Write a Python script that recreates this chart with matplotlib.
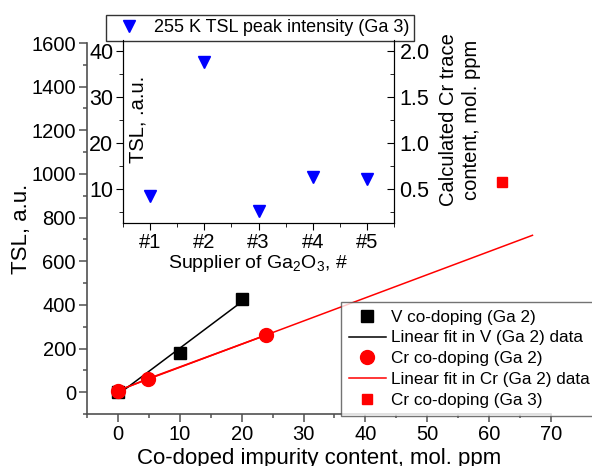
import numpy as np
import matplotlib
matplotlib.use("Agg")
from matplotlib import pyplot as plt
from matplotlib.ticker import MultipleLocator

plt.rcParams['font.family'] = ['Liberation Sans', 'DejaVu Sans']
plt.rcParams['mathtext.fontset'] = 'custom'
plt.rcParams['mathtext.rm'] = 'Liberation Sans'

# main plot data
v_x = [0, 10, 20]
v_tsl = [0, 180, 425]
cr_x = [0, 4.8, 23.9]
cr_tsl = [6, 61, 261]
cr3_x = [62.1]
cr3_tsl = [963]
cr_fit_end = 67

# inset data
suppliers = [1, 2, 3, 4, 5]
supplier_labels = ['#1', '#2', '#3', '#4', '#5']
peak_tsl = [8.4, 37.7, 5.3, 12.5, 12.2]

grey = '#505050'

fig = plt.figure(figsize=(5.92, 4.66), dpi=100)
ax = fig.add_axes([0.147, 0.1116, 0.7838, 0.7961])

# linear fits
kv, bv = np.polyfit(v_x, v_tsl, 1)
kc, bc = np.polyfit(cr_x, cr_tsl, 1)
xv = np.array([min(v_x), max(v_x)])
xc = np.array([min(cr_x), cr_fit_end])

ax.plot(cr_x, cr_tsl, color='red', lw=1.2)
h1, = ax.plot(v_x, v_tsl, 's', color='black', ms=8.5, label='V co-doping (Ga 2)')
h2, = ax.plot(xv, kv * xv + bv, '-', color='black', lw=1.1, label='Linear fit in V (Ga 2) data')
h3, = ax.plot(cr_x, cr_tsl, 'o', color='red', ms=10, label='Cr co-doping (Ga 2)')
h4, = ax.plot(xc, kc * xc + bc, '-', color='red', lw=1.1, label='Linear fit in Cr (Ga 2) data')
h5, = ax.plot(cr3_x, cr3_tsl, 's', color='red', ms=7.5, label='Cr co-doping (Ga 3)')

ax.set_xlim(-5, 70)
ax.set_ylim(-100, 1600)
ax.xaxis.set_major_locator(MultipleLocator(10))
ax.xaxis.set_minor_locator(MultipleLocator(5))
ax.yaxis.set_major_locator(MultipleLocator(200))
ax.yaxis.set_minor_locator(MultipleLocator(100))
for s in ['top', 'right']:
    ax.spines[s].set_visible(False)
for s in ['left', 'bottom']:
    ax.spines[s].set_color(grey)
    ax.spines[s].set_linewidth(1.2)
ax.tick_params(which='both', direction='out', color=grey, width=1.1, labelsize=14.5, pad=2)
ax.tick_params(which='major', length=6)
ax.tick_params(which='minor', length=3)
ax.set_xlabel('Co-doped impurity content, mol. ppm', fontsize=16, labelpad=3)
ax.set_ylabel('TSL, a.u.', fontsize=16)
ax.yaxis.set_label_coords(-0.119, 0.5)

leg = ax.legend(handles=[h1, h2, h3, h4, h5], loc='upper left',
                bbox_to_anchor=(341 / 592, 1 - 302 / 466), bbox_transform=fig.transFigure,
                fontsize=12.3, frameon=True, fancybox=False, edgecolor=grey,
                borderpad=0.45, labelspacing=0.34, handlelength=2.2, handletextpad=0.3,
                borderaxespad=0)
leg.get_frame().set_linewidth(1.0)

# inset
ins = fig.add_axes([0.2078, 0.5215, 0.4578, 0.3927])
hi, = ins.plot(suppliers, peak_tsl, 'v', color='blue', ms=9, label='255 K TSL peak intensity (Ga 3)')
ins.set_xlim(0.5, 5.5)
ins.set_ylim(2.6, 42.4)
ins.set_xticks(suppliers)
ins.set_xticklabels(supplier_labels)
ins.xaxis.set_minor_locator(MultipleLocator(0.5))
ins.yaxis.set_major_locator(MultipleLocator(10))
ins.yaxis.set_minor_locator(MultipleLocator(5))
ins.spines['top'].set_visible(False)
ins.tick_params(which='both', direction='out', pad=2)
ins.tick_params(axis='y', labelsize=15.5)
ins.tick_params(axis='x', labelsize=14.5)
ins.tick_params(which='major', length=5)
ins.tick_params(which='minor', length=3)
ins.set_xlabel('Supplier of Ga$_2$O$_3$, #', fontsize=14, labelpad=1)
ins.set_ylabel('TSL, .a.u.', fontsize=14.5)
ins.yaxis.set_label_coords(0.09, 0.566)

ins2 = ins.twinx()
ins2.set_ylim(0.13, 2.12)
ins2.yaxis.set_major_locator(MultipleLocator(0.5))
ins2.yaxis.set_minor_locator(MultipleLocator(0.25))
ins2.spines['top'].set_visible(False)
ins2.tick_params(which='both', direction='in', labelsize=15.5, pad=4)
ins2.tick_params(which='major', length=5)
ins2.tick_params(which='minor', length=3)
ins2.set_ylabel('Calculated Cr trace\ncontent, mol. ppm', fontsize=14.5, linespacing=1.3)
ins2.yaxis.set_label_coords(1.165, 0.566)

ileg = ins.legend(handles=[hi], loc='lower center', bbox_to_anchor=(0.505, 0.995),
                  fontsize=13, frameon=True, fancybox=False, edgecolor='black',
                  borderpad=0.25, handlelength=2.0, handletextpad=0.4, borderaxespad=0)
ileg.get_frame().set_linewidth(1.0)

fig.savefig('out.png', dpi=100)
